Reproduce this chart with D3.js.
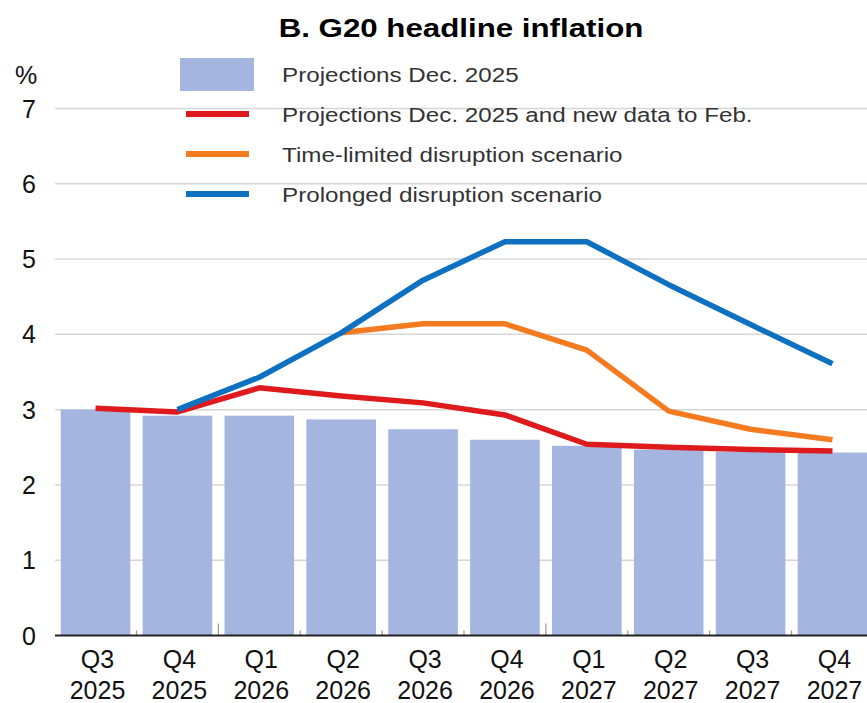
<!DOCTYPE html>
<html>
<head>
<meta charset="utf-8">
<script src="https://cdn.jsdelivr.net/npm/d3@7"></script>
<style>
  body { margin: 0; background: #fff; }
  svg { display: block; font-family: "Liberation Sans", Arial, sans-serif; }
</style>
</head>
<body>
<svg id="chart" width="867" height="703"></svg>
<script>
// quarters on the x axis
var quarters = ["Q3", "Q4", "Q1", "Q2", "Q3", "Q4", "Q1", "Q2", "Q3", "Q4"];
var years = ["2025", "2025", "2026", "2026", "2026", "2026", "2027", "2027", "2027", "2027"];
var yTicks = [0, 1, 2, 3, 4, 5, 6, 7];

// series
var projDec = [3.0, 2.92, 2.92, 2.87, 2.74, 2.6, 2.52, 2.47, 2.44, 2.43];
var projNewData = [3.02, 2.97, 3.29, 3.18, 3.09, 2.93, 2.54, 2.5, 2.47, 2.45];
var timeLimited = [null, null, null, 4.02, 4.14, 4.14, 3.79, 2.98, 2.74, 2.6];
var prolonged = [null, 3.0, 3.43, 4.02, 4.72, 5.23, 5.23, 4.66, 4.13, 3.61];

var legendLabels = [
    "Projections Dec. 2025",
    "Projections Dec. 2025 and new data to Feb.",
    "Time-limited disruption scenario",
    "Prolonged disruption scenario"
];

var colBar = "#a4b5e0", colRed = "#df1a1c", colOrange = "#f47b20", colBlue = "#0d70c0";

var svg = d3.select("#chart");
var keys = quarters.map(function(q, i){ return i; });

var x = d3.scaleBand().domain(keys).range([55, 873]).paddingInner(0.15).paddingOuter(0.07);
var y = d3.scaleLinear().domain([0, 7]).range([635.5, 108.5]);

// title (source font is a bit wider than Liberation, so stretch it)
svg.append("g")
    .attr("transform", "translate(461,37) scale(1.18,1)")
    .append("text")
    .attr("text-anchor", "middle")
    .attr("font-size", 26.5).attr("font-weight", "bold")
    .text("B. G20 headline inflation");

// gridlines
svg.append("g").selectAll("line")
    .data(yTicks.slice(1))
    .join("line")
    .attr("x1", 55).attr("x2", 867)
    .attr("y1", function(d){ return y(d); })
    .attr("y2", function(d){ return y(d); })
    .attr("stroke", "#d6d6d6").attr("stroke-width", 1.5);

// y labels
svg.append("g").selectAll("text")
    .data(yTicks)
    .join("text")
    .attr("x", 36)
    .attr("y", function(d){ return y(d); })
    .attr("dy", "0.36em")
    .attr("text-anchor", "end")
    .attr("font-size", 25)
    .attr("fill", "#111")
    .text(function(d){ return d; });

svg.append("text")
    .attr("x", 26).attr("y", 75)
    .attr("dy", "0.36em")
    .attr("text-anchor", "middle")
    .attr("font-size", 25)
    .attr("fill", "#111")
    .text("%");

// bars
svg.append("g").selectAll("rect")
    .data(projDec)
    .join("rect")
    .attr("x", function(d, i){ return x(i); })
    .attr("width", x.bandwidth())
    .attr("y", function(d){ return y(d); })
    .attr("height", function(d){ return y(0) - y(d); })
    .attr("fill", colBar);

// ticks between categories (taller at year change)
var step = x.step();
svg.append("g").selectAll("line")
    .data(keys.slice(1))
    .join("line")
    .attr("x1", function(i){ return x(i) - step * x.paddingInner() / 2; })
    .attr("x2", function(i){ return x(i) - step * x.paddingInner() / 2; })
    .attr("y1", y(0))
    .attr("y2", function(i){ return y(0) - (years[i] != years[i - 1] ? 12 : 5); })
    .attr("stroke", "#9a9a9a").attr("stroke-width", 1.2);

// x axis line
svg.append("line")
    .attr("x1", 55).attr("x2", 867)
    .attr("y1", y(0)).attr("y2", y(0))
    .attr("stroke", "#222").attr("stroke-width", 2);

// x labels
var xl = svg.append("g").selectAll("text")
    .data(keys)
    .join("text")
    .attr("text-anchor", "middle")
    .attr("font-size", 25)
    .attr("fill", "#111");
xl.append("tspan").attr("x", function(i){ return x(i) + x.bandwidth() / 2 + 2; })
    .attr("y", 668).text(function(i){ return quarters[i]; });
xl.append("tspan").attr("x", function(i){ return x(i) + x.bandwidth() / 2 + 2; })
    .attr("y", 699).text(function(i){ return years[i]; });

// lines
var line = d3.line()
    .defined(function(d){ return d != null; })
    .x(function(d, i){ return x(i) + x.bandwidth() / 2; })
    .y(function(d){ return y(d); });

[[projNewData, colRed], [timeLimited, colOrange], [prolonged, colBlue]].forEach(function(s){
    svg.append("path")
        .datum(s[0])
        .attr("d", line)
        .attr("fill", "none")
        .attr("stroke", s[1])
        .attr("stroke-width", 5.5)
        .attr("stroke-linejoin", "round");
});

// legend
var lg = svg.append("g");
lg.append("rect").attr("x", 180).attr("y", 58).attr("width", 74).attr("height", 33).attr("fill", colBar);
[[colRed, 114], [colOrange, 154], [colBlue, 194]].forEach(function(l){
    lg.append("line")
        .attr("x1", 186).attr("x2", 249)
        .attr("y1", l[1]).attr("y2", l[1])
        .attr("stroke", l[0]).attr("stroke-width", 6);
});
lg.selectAll("g.item")
    .data(legendLabels)
    .join("g")
    .attr("class", "item")
    .attr("transform", function(d, i){ return "translate(282," + (75 + i * 40) + ") scale(1.21,1)"; })
    .append("text")
    .attr("dy", "0.36em")
    .attr("font-size", 20)
    .attr("fill", "#333")
    .text(function(d){ return d; });
</script>
</body>
</html>
